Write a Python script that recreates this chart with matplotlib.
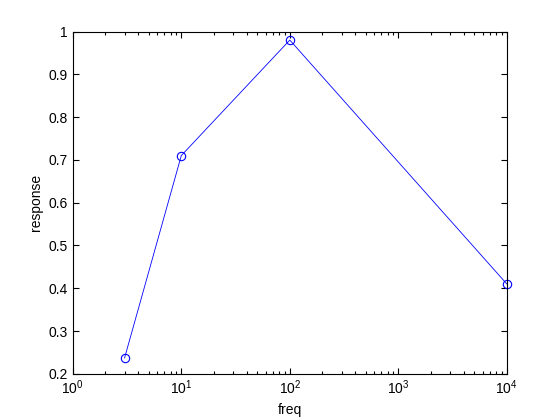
import matplotlib
matplotlib.use("Agg")
import matplotlib.pyplot as plt

freq = [3, 10, 100, 10000]
response = [0.237, 0.71, 0.98, 0.41]

plt.rcParams['font.family'] = ['Liberation Sans', 'DejaVu Sans']
plt.rcParams['font.size'] = 10

fig = plt.figure(figsize=(5.6, 4.2), dpi=100)
ax = fig.add_axes([0.13, 0.11, 0.775, 0.815])
ax.plot(freq, response, '-o', color='blue', linewidth=0.6, clip_on=False,
        markerfacecolor='none', markeredgecolor='blue', markersize=6, markeredgewidth=0.8)
ax.set_xscale('log')
ax.set_xlim(1, 1e4)
ax.set_ylim(0.2, 1)
ax.set_yticks([0.2, 0.3, 0.4, 0.5, 0.6, 0.7, 0.8, 0.9, 1])
ax.set_yticklabels(['0.2', '0.3', '0.4', '0.5', '0.6', '0.7', '0.8', '0.9', '1'])
ax.tick_params(which='both', direction='in', top=True, right=True, width=0.8)
ax.tick_params(which='major', length=4)
ax.tick_params(which='minor', length=2.5)
for s in ax.spines.values():
    s.set_linewidth(0.8)
ax.set_xlabel('freq')
ax.set_ylabel('response')
fig.savefig('out.png', dpi=100)
